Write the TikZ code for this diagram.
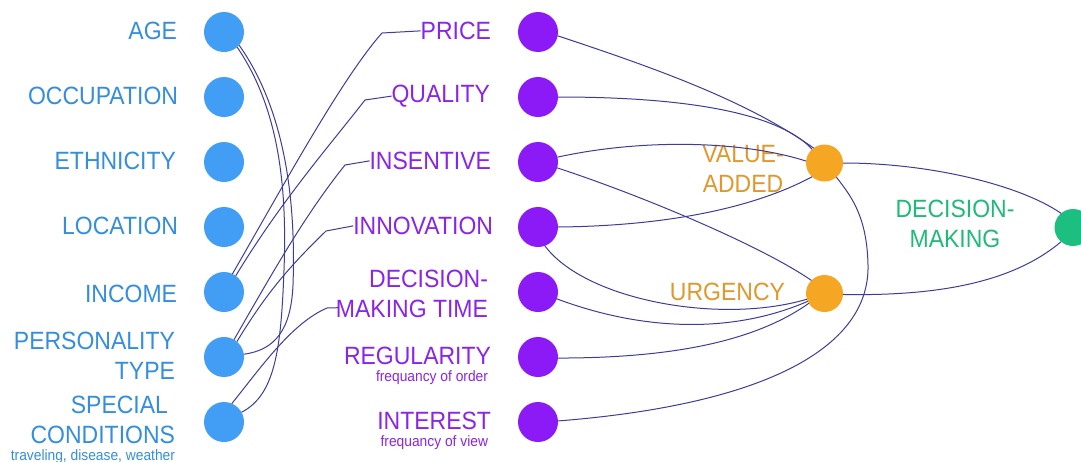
\documentclass[tikz,border=0pt]{standalone}
\usepackage{fontspec}
\setmainfont{Liberation Sans}[FakeStretch=0.92]
\usetikzlibrary{calc}
\definecolor{cblue}{RGB}{66,157,244}
\definecolor{tblue}{RGB}{52,142,222}
\definecolor{cpurple}{RGB}{140,26,247}
\definecolor{tpurple}{RGB}{138,36,232}
\definecolor{corange}{RGB}{245,166,35}
\definecolor{torange}{RGB}{224,152,45}
\definecolor{cgreen}{RGB}{29,191,128}
\definecolor{tgreen}{RGB}{32,186,120}
\definecolor{wirecol}{RGB}{62,60,155}
\begin{document}
\begin{tikzpicture}[x=1pt,y=-1pt,
  dot/.style={circle,fill=#1,draw=none,minimum size=40pt,inner sep=0pt,outer sep=0pt},
  hub/.style={circle,fill=#1,draw=none,minimum size=37pt,inner sep=0pt,outer sep=0pt},
  lbl/.style={inner sep=0pt,outer sep=0pt,text=#1,font=\fontsize{25}{30}\selectfont,anchor=north east,align=right},
  sub/.style={inner sep=0pt,outer sep=0pt,text=#1,font=\fontsize{15}{18}\selectfont,anchor=base east},
  wire/.style={draw=wirecol,line width=1pt}]
\useasboundingbox (0,0) rectangle (1081,461);
\clip (0,0) rectangle (1081,461);
\fill[white] (0,0) rectangle (1081,461);

% left column
\node[dot=cblue] (age)  at (224,32)  {};
\node[dot=cblue] (occ)  at (224,97)  {};
\node[dot=cblue] (eth)  at (224,162) {};
\node[dot=cblue] (loc)  at (224,227) {};
\node[dot=cblue] (inc)  at (224,292) {};
\node[dot=cblue] (pers) at (224,357) {};
\node[dot=cblue] (spec) at (224,422) {};
\node[lbl=tblue] (agel)  at (177,22)  {AGE};
\node[lbl=tblue] (occl)  at (178,87)  {OCCUPATION};
\node[lbl=tblue] (ethl)  at (176,152) {ETHNICITY};
\node[lbl=tblue] (locl)  at (178,217) {LOCATION};
\node[lbl=tblue] (incl)  at (177,285) {INCOME};
\node[lbl=tblue] (persl) at (175,332) {PERSONALITY\\TYPE};
\node[lbl=tblue] (specl) at (175,396) {SPECIAL\hspace*{7pt}\\CONDITIONS};
\node[sub=tblue] (specs) at (175,460) {traveling, disease, weather};

% middle column
\node[dot=cpurple] (prc)  at (538,32)  {};
\node[dot=cpurple] (qual) at (538,97)  {};
\node[dot=cpurple] (ins)  at (538,162) {};
\node[dot=cpurple] (inn)  at (538,227) {};
\node[dot=cpurple] (dmt)  at (538,292) {};
\node[dot=cpurple] (reg)  at (538,357) {};
\node[dot=cpurple] (intr) at (538,422) {};
\node[lbl=tpurple] (prcl)  at (491,22)  {PRICE};
\node[lbl=tpurple] (quall) at (490,85)  {QUALITY};
\node[lbl=tpurple] (insl)  at (491,152) {INSENTIVE};
\node[lbl=tpurple] (innl)  at (493,217) {INNOVATION};
\node[lbl=tpurple] (dmtl)  at (488,270) {DECISION-\\MAKING TIME};
\node[lbl=tpurple] (regl)  at (491,347) {REGULARITY};
\node[sub=tpurple] (regs)  at (488,381) {frequancy of order};
\node[lbl=tpurple] (intl)  at (491,412) {INTEREST};
\node[sub=tpurple] (ints)  at (488,446) {frequancy of view};

% right part
\node[hub=corange] (va)  at (824.5,163)   {};
\node[hub=corange] (urg) at (824.5,293.5) {};
\node[hub=cgreen]  (dm)  at (1073,227.5)  {};
\node[lbl=torange,anchor=north,align=center] (val)  at (743,145) {VALUE-\\ADDED};
\node[lbl=torange] (urgl) at (785,283) {URGENCY};
\node[lbl=tgreen,anchor=north,align=center] (dml) at (955,200) {DECISION-\\MAKING};

% left connectors
\draw[wire] (age.-41) .. controls (285,110) and (296,200) .. (293,285)
                      .. controls (291,330) and (275,350) .. (pers.8);
\draw[wire] (age.-49) .. controls (280,110) and (287,190) .. (284,270)
                      .. controls (281,350) and (275,395) .. (spec.29);
\draw[wire] (inc.65) .. controls (282.5,187) and (342,78) .. (382,33) -- (prcl.west);
\draw[wire] (inc.54) .. controls (281,201) and (330,145) .. (365,100) -- (quall.west);
\draw[wire] (pers.60) .. controls (274,270) and (305,215) .. (345,165) -- (insl.west);
\draw[wire] (pers.50) .. controls (267,292) and (290,266) .. (326,231) -- (innl.west);
\draw[wire] (spec.67) .. controls (262,366) and (292,323) .. (327,308) -- ($(dmtl.south west)+(2,-10)$);

% middle to hubs
\draw[wire] (prc.-11) .. controls (658,69) and (747,101) .. (va.126);
\draw[wire] (qual.0) .. controls (650,97) and (771,105) .. (va.132);
\draw[wire] (ins.14) .. controls (640,139) and (740,140) .. (va.174);
\draw[wire] (inn.0) .. controls (660,226) and (750,210) .. (va.228);
\draw[wire] (intr.3) .. controls (760,405) and (870,350) .. (868,265)
                     .. controls (867,215) and (850,195) .. (va.-50);
\draw[wire] (ins.-17) .. controls (640,195) and (760,245) .. (urg.135);
\draw[wire] (inn.-70) .. controls (585,300) and (720,325) .. (urg.198);
\draw[wire] (dmt.-20) .. controls (640,330) and (730,335) .. (urg.205);
\draw[wire] (reg.-3) .. controls (660,358) and (750,345) .. (urg.212);

% hubs to decision
\draw[wire] (va.0) .. controls (930,163) and (1020,185) .. (dm.130);
\draw[wire] (urg.-3) .. controls (930,296) and (1010,285) .. (dm.230);
\end{tikzpicture}
\end{document}
